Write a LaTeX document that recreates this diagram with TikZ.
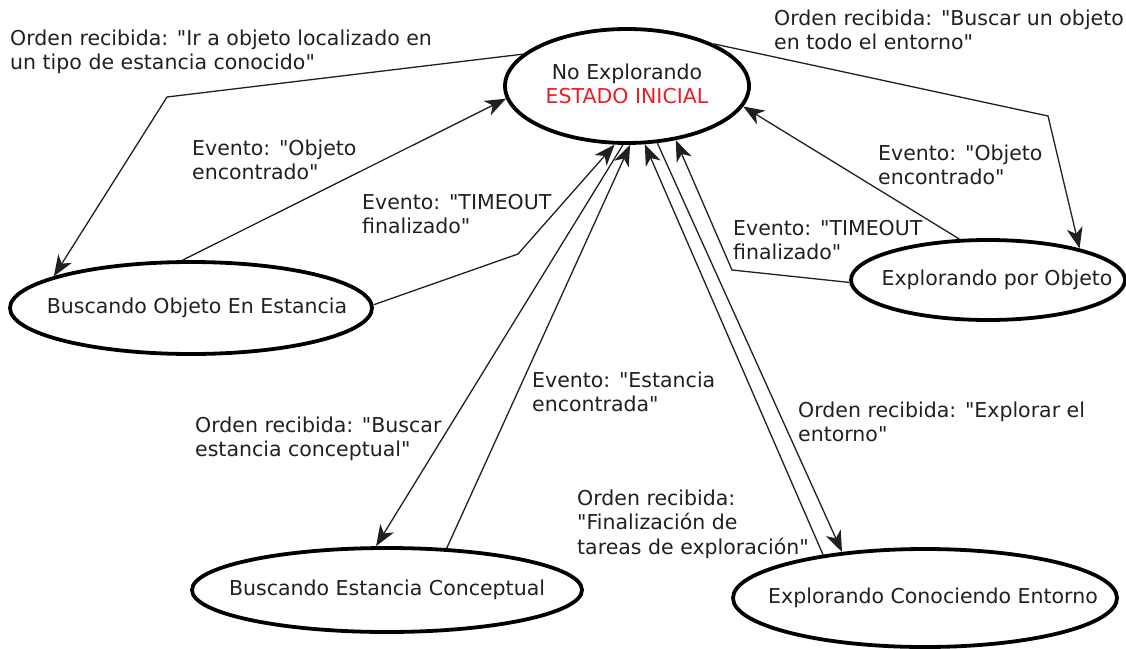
\documentclass[tikz,border=0pt]{standalone}
\usepackage{fontspec}
\setmainfont{DejaVu Sans}[Ligatures=TeXOff]
\usepackage{tikz}
\usetikzlibrary{arrows.meta}
\usetikzlibrary{shapes.geometric}

\definecolor{tinta}{HTML}{231F20}
\definecolor{rojo}{HTML}{ED1C24}

\tikzset{
  estado/.style={draw=black, ellipse, line width=3.8pt, inner sep=0pt},
  nombre/.style={inner sep=0pt, align=center, text=tinta, font=\fontsize{20.5}{24.5}\selectfont},
  flecha/.style={draw=tinta, line width=1.3pt, -{Stealth[length=21pt, width=16pt, inset=6pt]}},
  etiqueta/.style={anchor=base west, inner sep=0pt, align=left, text=tinta, font=\fontsize{20.5}{24.5}\selectfont}
}

\begin{document}
\begin{tikzpicture}[x=1pt, y=-1pt]
		\useasboundingbox (0,0) rectangle (1126,648);
		\node[estado, minimum width=244pt, minimum height=114pt, label={[nombre, yshift=2pt]center:No Explorando\\\textcolor{rojo}{ESTADO INICIAL}}] (ne) at (627,86) {};
		\node[estado, minimum width=362pt, minimum height=92pt, label={[nombre, xshift=6pt]center:Buscando Objeto En Estancia}] (bo) at (191,308) {};
		\node[estado, minimum width=274pt, minimum height=80pt, label={[nombre, xshift=9pt]center:Explorando por Objeto}] (epo) at (988,280) {};
		\node[estado, minimum width=390pt, minimum height=84pt, label={[nombre]center:Buscando Estancia Conceptual}] (bec) at (387,590) {};
		\node[estado, minimum width=384pt, minimum height=98pt, label={[nombre, xshift=8pt]center:Explorando Conociendo Entorno}] (ece) at (925,598) {};
		% esquinas
		\coordinate (c1) at (167,97);
		\coordinate (c2) at (518,254);
		\coordinate (c3) at (1048,116);
		\coordinate (c4) at (732,270);
		% transiciones
		\draw[flecha] (ne.163.5) -- (c1) -- (bo.167);
		\draw[flecha] (bo.100) -- (ne.186);
		\draw[flecha] (bo.1) -- (c2) -- (ne.258);
		\draw[flecha] (ne.26.6) -- (c3) -- (epo.19.7);
		\draw[flecha] (epo.125) -- (ne.350);
		\draw[flecha] (epo.181) -- (c4) -- (ne.312);
		\draw[flecha] (ne.266) -- (bec.104);
		\draw[flecha] (bec.35) -- (ne.273);
		\draw[flecha] (ne.298.5) -- (ece.151);
		\draw[flecha] (ece.157.6) -- (ne.287.5);
		% etiquetas (base = ultima linea)
		\node[etiqueta] (l1) at (10,69.5) {Orden recibida: "Ir a objeto localizado en\\un tipo de estancia conocido"};
		\node[etiqueta] (l2) at (192,179.5) {Evento: "Objeto\\encontrado"};
		\node[etiqueta] (l3) at (362,233.5) {Evento: "TIMEOUT\\finalizado"};
		\node[etiqueta] (l4) at (774,49.5) {Orden recibida: "Buscar un objeto\\en todo el entorno"};
		\node[etiqueta] (l5) at (878,184.5) {Evento: "Objeto\\encontrado"};
		\node[etiqueta] (l6) at (733,259.5) {Evento: "TIMEOUT\\finalizado"};
		\node[etiqueta] (l7) at (532,411.5) {Evento: "Estancia\\encontrada"};
		\node[etiqueta] (l8) at (195,456.5) {Orden recibida: "Buscar\\estancia conceptual"};
		\node[etiqueta] (l9) at (798,441.5) {Orden recibida: "Explorar el\\entorno"};
		\node[etiqueta] (l10) at (577,554) {Orden recibida:\\"Finalización de\\tareas de exploración"};
	\end{tikzpicture}
\end{document}
